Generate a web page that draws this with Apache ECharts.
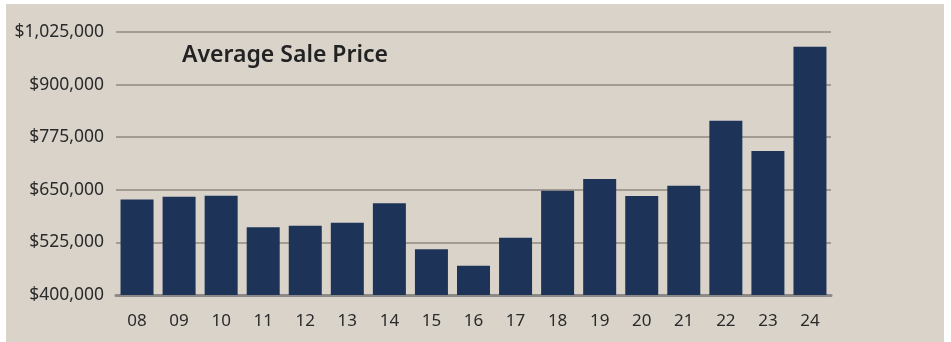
<!DOCTYPE html>
<html><head><meta charset="utf-8">
<script src="https://cdn.jsdelivr.net/npm/echarts@6/dist/echarts.min.js"></script>
<style>
html,body{margin:0;padding:0;background:#fff;width:951px;height:342px;overflow:hidden;}
#c{position:absolute;left:6px;top:4px;width:938px;height:338px;background:#d9d3ca;}
</style></head><body><div id="c"></div>
<script>
const categories = ['08','09','10','11','12','13','14','15','16','17','18','19','20','21','22','23','24'];
const values = [627000,633600,636000,560800,564700,571800,617900,508600,469700,536200,647900,675600,635200,659700,814200,742100,990000];
const yMin = 400000, yMax = 1025000, yStep = 125000;
const title = 'Average Sale Price';

const chart = echarts.init(document.getElementById('c'), null, {renderer:'canvas'});
chart.setOption({
  backgroundColor: '#d9d3ca',
  animation: false,
  title: {
    text: title, left: 171, top: 35,
    textStyle: {fontFamily: 'Noto Sans', fontWeight: 600, fontSize: 23, color: '#222'}
  },
  grid: {left: 110, top: 28, width: 715, height: 263, containLabel: false},
  xAxis: {
    type: 'category', data: categories,
    axisLine: {lineStyle: {color: '#8c8a88', width: 3}},
    axisTick: {show: false},
    axisLabel: {fontFamily: 'Noto Sans', fontSize: 17, color: '#2a2a2a', margin: 18}
  },
  yAxis: {
    type: 'value', min: yMin, max: yMax, interval: yStep,
    axisLine: {show: false}, axisTick: {show: false},
    splitLine: {lineStyle: {color: '#a39c92', width: 2}},
    axisLabel: {fontFamily: 'Noto Sans', fontSize: 17.5, color: '#2a2a2a', margin: 12,
      formatter: v => '$' + v.toLocaleString('en-US')}
  },
  series: [{
    type: 'bar', data: values, barWidth: 33,
    itemStyle: {color: '#1e3358'}
  }]
});
</script></body></html>
